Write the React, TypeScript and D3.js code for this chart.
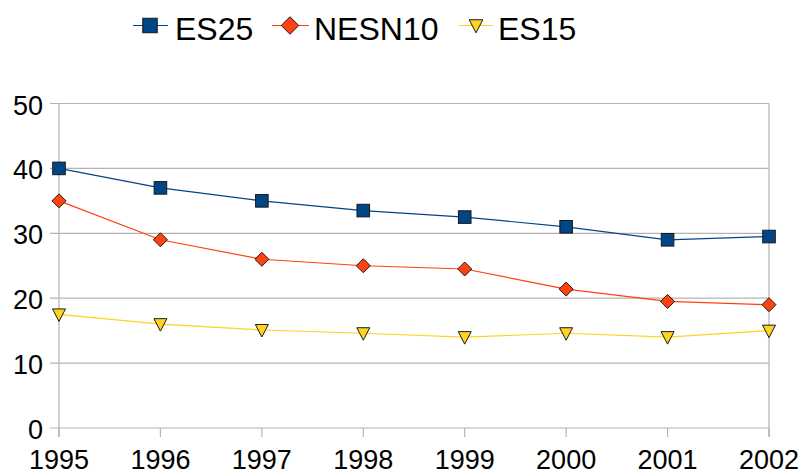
import React from "react";
import * as d3 from "d3";

const years = [1995, 1996, 1997, 1998, 1999, 2000, 2001, 2002];
const es25 = [40, 37, 35, 33.5, 32.5, 31, 29, 29.5];
const nesn10 = [35, 29, 26, 25, 24.5, 21.4, 19.5, 19];
const es15 = [17.5, 16, 15.1, 14.6, 14, 14.6, 14, 15];
const yTicks = [0, 10, 20, 30, 40, 50];

const seriesNames = ["ES25", "NESN10", "ES15"];
const seriesColors = ["#004586", "#ff420e", "#ffd320"];
const seriesShapes = ["square", "diamond", "triangle"];

const W = 804;
const H = 472;
const FONT = "'Liberation Sans', Arial, sans-serif";

function Marker({ shape, x, y, color, s = 1 }: { shape: string; x: number; y: number; color: string; s?: number }) {
  if (shape === "square") {
    const h = 6.3 * s;
    return <rect x={x - h} y={y - h} width={2 * h} height={2 * h} fill={color} stroke="#1a1a1a" strokeWidth={1} />;
  }
  if (shape === "diamond") {
    const r = 7 * s;
    return (
      <path d={`M${x},${y - r}L${x + r},${y}L${x},${y + r}L${x - r},${y}Z`} fill={color} stroke="#1a1a1a" strokeWidth={1} />
    );
  }
  const w = 6.5 * s;
  return (
    <path d={`M${x - w},${y - 5.5 * s}L${x + w},${y - 5.5 * s}L${x},${y + 7 * s}Z`} fill={color} stroke="#1a1a1a" strokeWidth={1} />
  );
}

export default function App() {
  const x = d3.scaleLinear().domain([1995, 2002]).range([59, 769]);
  const y = d3.scaleLinear().domain([0, 50]).range([428, 103.5]);
  const data = [es25, nesn10, es15];
  const line = d3
    .line<number>()
    .x((_, i) => x(years[i]))
    .y((d) => y(d));

  const legendX = [
    { line: [133, 168], marker: 150, text: 175 },
    { line: [272, 309], marker: 290, text: 314 },
    { line: [459, 493], marker: 476, text: 498 },
  ];
  const legendScale = [1.15, 1.25, 1.05];

  return (
    <svg width={W} height={H} style={{ position: "absolute", left: 0, top: 0, background: "#fff" }}>
      <rect width={W} height={H} fill="#fff" />
      {yTicks.map((t) => (
        <line key={t} x1={50} x2={769} y1={y(t)} y2={y(t)} stroke="#b3b3b3" strokeWidth={1.2} />
      ))}
      <line x1={59} x2={59} y1={y(50)} y2={437} stroke="#b3b3b3" strokeWidth={1.2} />
      <line x1={769} x2={769} y1={y(50)} y2={437} stroke="#b3b3b3" strokeWidth={1.2} />
      {years.map((yr) => (
        <line key={yr} x1={x(yr)} x2={x(yr)} y1={y(0)} y2={437} stroke="#b3b3b3" strokeWidth={1.2} />
      ))}
      {yTicks.map((t) => (
        <text key={t} x={43} y={y(t) + 11} textAnchor="end" fontFamily={FONT} fontSize={27} fill="#000">
          {t}
        </text>
      ))}
      {years.map((yr) => (
        <text key={yr} x={x(yr)} y={469} textAnchor="middle" fontFamily={FONT} fontSize={27} fill="#000">
          {yr}
        </text>
      ))}
      {data.map((vals, si) => (
        <g key={si}>
          <path d={line(vals) || ""} fill="none" stroke={seriesColors[si]} strokeWidth={1.2} />
          {vals.map((v, i) => (
            <Marker key={i} shape={seriesShapes[si]} x={x(years[i])} y={y(v)} color={seriesColors[si]} />
          ))}
        </g>
      ))}
      {seriesNames.map((n, si) => (
        <g key={n}>
          <line x1={legendX[si].line[0]} x2={legendX[si].line[1]} y1={25.5} y2={25.5} stroke={seriesColors[si]} strokeWidth={1.2} />
          <Marker shape={seriesShapes[si]} x={legendX[si].marker} y={25.5} color={seriesColors[si]} s={legendScale[si]} />
          <text x={legendX[si].text} y={40} fontFamily={FONT} fontSize={32} fill="#000">
            {n}
          </text>
        </g>
      ))}
    </svg>
  );
}
